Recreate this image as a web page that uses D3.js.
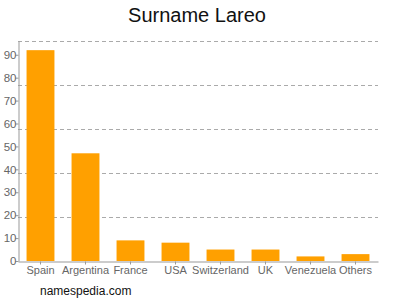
<!DOCTYPE html>
<html><head><meta charset="utf-8">
<script src="https://cdn.jsdelivr.net/npm/d3@7"></script>
<style>body{margin:0;background:#fff}svg{display:block}</style>
</head><body>
<svg id="c" width="400" height="300"></svg>
<script>
const categories = ["Spain","Argentina","France","USA","Switzerland","UK","Venezuela","Others"];
const values = [92,47,9,8,5,5,2,3];
const yTicks = [0,10,20,30,40,50,60,70,80,90];
const gridValues = [19.2,38.4,57.6,76.8,96];

const svg = d3.select("#c");
const m = {l:18, r:22, t:41, b:39};
const W = 400, H = 300;
const x = d3.scaleBand().domain(categories).range([m.l, W-m.r]).paddingInner(0.38).paddingOuter(0.19);
const y = d3.scaleLinear().domain([0,96]).range([H-m.b, m.t]);

const font = "Liberation Sans, Arial, sans-serif";

svg.append("g").selectAll("line").data(gridValues).join("line")
  .attr("x1", m.l).attr("x2", W-m.r)
  .attr("y1", d=>Math.round(y(d))+0.5).attr("y2", d=>Math.round(y(d))+0.5)
  .attr("stroke","#aaa").attr("stroke-dasharray","4,3").attr("stroke-width",1);

svg.append("g").selectAll("rect").data(values).join("rect")
  .attr("x",(d,i)=>x(categories[i])).attr("width",x.bandwidth())
  .attr("y",d=>y(d)).attr("height",d=>y(0)-y(d))
  .attr("fill","#ffa000");

const ya = svg.append("g").attr("transform",`translate(${m.l+0.5},0)`)
  .call(d3.axisLeft(y).tickValues(yTicks).tickSize(3).tickSizeOuter(0));
ya.select(".domain").attr("stroke","#999");
ya.selectAll(".tick line").attr("stroke","#999");
ya.selectAll("text").attr("fill","#666").style("font-family",font).style("font-size","11.5px").attr("x",-2);

const xa = svg.append("g").attr("transform",`translate(0,${y(0)+0.5})`)
  .call(d3.axisBottom(x).tickSize(3).tickSizeOuter(0));
xa.select(".domain").attr("stroke","#999");
xa.selectAll(".tick line").attr("stroke","#999");
xa.selectAll("text").attr("fill","#666").style("font-family",font).style("font-size","11px").attr("y",5).attr("dy","0.71em");

svg.append("text").attr("x",197).attr("y",22).attr("text-anchor","middle")
  .style("font-family",font).style("font-size","20px").attr("fill","#111").text("Surname Lareo");

svg.append("text").attr("x",40).attr("y",295)
  .style("font-family",font).style("font-size","12px").attr("fill","#111").text("namespedia.com");
</script>
</body></html>
